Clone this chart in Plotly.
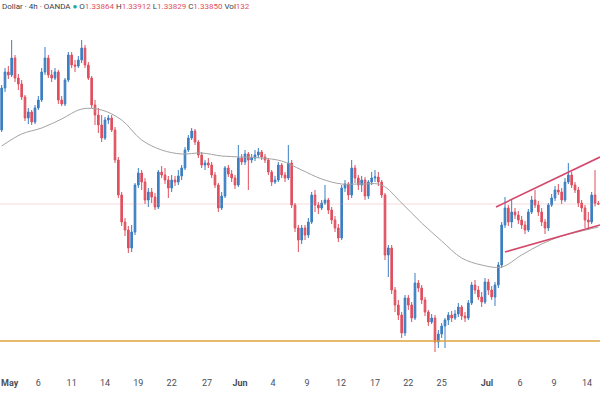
import plotly.graph_objects as go

# ---- data (4h bars) ----
open_ = [
1.3533, 1.3617, 1.3649, 1.3643, 1.3677, 1.3637, 1.3625, 1.3599, 1.3557, 1.3569,
1.3549, 1.3577, 1.3593, 1.3649, 1.3677, 1.3643, 1.3637, 1.3649, 1.3593, 1.3585,
1.3633, 1.3683, 1.3663, 1.3661, 1.3673, 1.3697, 1.3663, 1.3637, 1.3583, 1.3563,
1.3543, 1.3517, 1.3553, 1.3557, 1.3533, 1.3473, 1.3403, 1.3349, 1.3333, 1.3297,
1.3329, 1.3423, 1.3447, 1.3429, 1.3393, 1.3409, 1.3399, 1.3379, 1.3449, 1.3443,
1.3433, 1.3417, 1.3433, 1.3429, 1.3441, 1.3457, 1.3493, 1.3517, 1.3531, 1.3509,
1.3483, 1.3463, 1.3467, 1.3463, 1.3443, 1.3423, 1.3377, 1.3401, 1.3457, 1.3445,
1.3437, 1.3423, 1.3477, 1.3469, 1.3485, 1.3473, 1.3477, 1.3483, 1.3489, 1.3479,
1.3473, 1.3449, 1.3429, 1.3433, 1.3463, 1.3443, 1.3437, 1.3467, 1.3383, 1.3337,
1.3313, 1.3337, 1.3323, 1.3349, 1.3403, 1.3383, 1.3377, 1.3387, 1.3393, 1.3373,
1.3353, 1.3337, 1.3317, 1.3417, 1.3425, 1.3403, 1.3457, 1.3437, 1.3423, 1.3433,
1.3401, 1.3429, 1.3437, 1.3439, 1.3429, 1.3403, 1.3283, 1.3297, 1.3213, 1.3183,
1.3163, 1.3127, 1.3197, 1.3183, 1.3157, 1.3227, 1.3217, 1.3193, 1.3169, 1.3149,
1.3157, 1.3109, 1.3125, 1.3141, 1.3153, 1.3163, 1.3157, 1.3165, 1.3179, 1.3161,
1.3157, 1.3187, 1.3223, 1.3213, 1.3199, 1.3189, 1.3229, 1.3213, 1.3199, 1.3223,
1.3263, 1.3343, 1.3377, 1.3349, 1.3369, 1.3363, 1.3353, 1.3343, 1.3333, 1.3369,
1.3393, 1.3383, 1.3369, 1.3349, 1.3337, 1.3383, 1.3397, 1.3413, 1.3409, 1.3393,
1.3429, 1.3443, 1.3423, 1.3413, 1.3387, 1.3377, 1.3353, 1.3349, 1.3403, 1.33864,
]
high = [
1.3623, 1.3657, 1.3661, 1.3713, 1.3683, 1.3645, 1.3633, 1.3603, 1.3577, 1.3573,
1.3583, 1.3601, 1.3657, 1.3699, 1.3683, 1.3653, 1.3657, 1.3653, 1.3601, 1.3637,
1.3689, 1.3689, 1.3673, 1.3681, 1.3713, 1.3703, 1.3669, 1.3641, 1.3593, 1.3577,
1.3563, 1.3559, 1.3563, 1.3563, 1.3539, 1.3479, 1.3409, 1.3357, 1.3341, 1.3343,
1.3427, 1.3457, 1.3453, 1.3437, 1.3417, 1.3417, 1.3407, 1.3453, 1.3461, 1.3457,
1.3441, 1.3443, 1.3441, 1.3453, 1.3463, 1.3499, 1.3523, 1.3537, 1.3535, 1.3513,
1.3489, 1.3473, 1.3477, 1.3469, 1.3449, 1.3427, 1.3409, 1.3461, 1.3463, 1.3453,
1.3443, 1.3503, 1.3485, 1.3493, 1.3489, 1.3485, 1.3493, 1.3497, 1.3493, 1.3485,
1.3477, 1.3453, 1.3441, 1.3469, 1.3467, 1.3449, 1.3503, 1.3473, 1.3387, 1.3343,
1.3343, 1.3343, 1.3357, 1.3409, 1.3413, 1.3389, 1.3393, 1.3423, 1.3397, 1.3379,
1.3361, 1.3345, 1.3423, 1.3433, 1.3429, 1.3473, 1.3463, 1.3443, 1.3441, 1.3439,
1.3433, 1.3449, 1.3453, 1.3449, 1.3433, 1.3407, 1.3303, 1.3303, 1.3219, 1.3193,
1.3169, 1.3203, 1.3203, 1.3189, 1.3247, 1.3233, 1.3223, 1.3199, 1.3173, 1.3165,
1.3163, 1.3133, 1.3147, 1.3157, 1.3169, 1.3171, 1.3173, 1.3187, 1.3183, 1.3169,
1.3193, 1.3229, 1.3233, 1.3221, 1.3209, 1.3237, 1.3235, 1.3221, 1.3229, 1.3269,
1.3349, 1.3399, 1.3383, 1.3393, 1.3377, 1.3371, 1.3361, 1.3351, 1.3375, 1.3401,
1.3413, 1.3391, 1.3377, 1.3355, 1.3387, 1.3405, 1.3421, 1.3425, 1.3417, 1.3437,
1.3467, 1.3449, 1.3429, 1.3419, 1.3393, 1.3383, 1.3369, 1.3409, 1.3453, 1.33912,
]
low = [
1.3529, 1.3609, 1.3635, 1.3639, 1.3629, 1.3613, 1.3593, 1.3551, 1.3545, 1.3543,
1.3545, 1.3573, 1.3589, 1.3643, 1.3637, 1.3629, 1.3633, 1.3585, 1.3581, 1.3581,
1.3629, 1.3657, 1.3649, 1.3657, 1.3667, 1.3657, 1.3633, 1.3577, 1.3543, 1.3527,
1.3509, 1.3513, 1.3545, 1.3529, 1.3467, 1.3397, 1.3341, 1.3321, 1.3287, 1.3289,
1.3323, 1.3417, 1.3413, 1.3385, 1.3379, 1.3387, 1.3373, 1.3375, 1.3437, 1.3425,
1.3397, 1.3409, 1.3421, 1.3423, 1.3433, 1.3453, 1.3489, 1.3513, 1.3503, 1.3477,
1.3457, 1.3453, 1.3457, 1.3437, 1.3417, 1.3369, 1.3373, 1.3397, 1.3439, 1.3429,
1.3415, 1.3419, 1.3463, 1.3463, 1.3413, 1.3467, 1.3471, 1.3477, 1.3473, 1.3467,
1.3443, 1.3421, 1.3425, 1.3429, 1.3437, 1.3429, 1.3433, 1.3377, 1.3329, 1.3289,
1.3305, 1.3313, 1.3317, 1.3345, 1.3369, 1.3365, 1.3373, 1.3383, 1.3365, 1.3345,
1.3329, 1.3309, 1.3313, 1.3409, 1.3393, 1.3397, 1.3427, 1.3413, 1.3409, 1.3393,
1.3395, 1.3423, 1.3429, 1.3421, 1.3397, 1.3273, 1.3239, 1.3205, 1.3169, 1.3153,
1.3117, 1.3121, 1.3173, 1.3149, 1.3153, 1.3209, 1.3185, 1.3161, 1.3141, 1.3145,
1.3089, 1.3097, 1.3117, 1.3097, 1.3143, 1.3149, 1.3153, 1.3159, 1.3153, 1.3149,
1.3153, 1.3183, 1.3205, 1.3193, 1.3179, 1.3185, 1.3203, 1.3193, 1.3181, 1.3217,
1.3257, 1.3337, 1.3341, 1.3337, 1.3355, 1.3345, 1.3335, 1.3325, 1.3329, 1.3365,
1.3377, 1.3361, 1.3341, 1.3325, 1.3331, 1.3379, 1.3391, 1.3403, 1.3385, 1.3389,
1.3425, 1.3417, 1.3407, 1.3379, 1.3369, 1.3337, 1.3333, 1.3345, 1.3380, 1.33829,
]
close = [
1.3617, 1.3649, 1.3643, 1.3677, 1.3637, 1.3625, 1.3599, 1.3557, 1.3569, 1.3549,
1.3577, 1.3593, 1.3649, 1.3677, 1.3643, 1.3637, 1.3649, 1.3593, 1.3585, 1.3633,
1.3683, 1.3663, 1.3661, 1.3673, 1.3697, 1.3663, 1.3637, 1.3583, 1.3563, 1.3543,
1.3517, 1.3553, 1.3557, 1.3533, 1.3473, 1.3403, 1.3349, 1.3333, 1.3297, 1.3329,
1.3423, 1.3447, 1.3429, 1.3393, 1.3409, 1.3399, 1.3379, 1.3449, 1.3443, 1.3433,
1.3417, 1.3433, 1.3429, 1.3441, 1.3457, 1.3493, 1.3517, 1.3531, 1.3509, 1.3483,
1.3463, 1.3467, 1.3463, 1.3443, 1.3423, 1.3377, 1.3401, 1.3457, 1.3445, 1.3437,
1.3423, 1.3477, 1.3469, 1.3485, 1.3473, 1.3477, 1.3483, 1.3489, 1.3479, 1.3473,
1.3449, 1.3429, 1.3433, 1.3463, 1.3443, 1.3437, 1.3467, 1.3383, 1.3337, 1.3313,
1.3337, 1.3323, 1.3349, 1.3403, 1.3383, 1.3377, 1.3387, 1.3393, 1.3373, 1.3353,
1.3337, 1.3317, 1.3417, 1.3425, 1.3403, 1.3457, 1.3437, 1.3423, 1.3433, 1.3401,
1.3429, 1.3437, 1.3439, 1.3429, 1.3403, 1.3283, 1.3297, 1.3213, 1.3183, 1.3163,
1.3127, 1.3197, 1.3183, 1.3157, 1.3227, 1.3217, 1.3193, 1.3169, 1.3149, 1.3157,
1.3109, 1.3125, 1.3141, 1.3153, 1.3163, 1.3157, 1.3165, 1.3179, 1.3161, 1.3157,
1.3187, 1.3223, 1.3213, 1.3199, 1.3189, 1.3229, 1.3213, 1.3199, 1.3223, 1.3263,
1.3343, 1.3377, 1.3349, 1.3369, 1.3363, 1.3353, 1.3343, 1.3333, 1.3369, 1.3393,
1.3383, 1.3369, 1.3349, 1.3337, 1.3383, 1.3397, 1.3413, 1.3409, 1.3393, 1.3429,
1.3443, 1.3423, 1.3413, 1.3387, 1.3377, 1.3353, 1.3349, 1.3403, 1.33864, 1.33850,
]
volume_last = 132

# moving average, sampled at bar indices
ma_bars = [0, 6, 12, 18, 24, 30, 36, 42, 48, 54, 60, 66, 72, 78, 84, 90, 96, 102,
           108, 114, 120, 126, 132, 138, 144, 150, 156, 162, 168, 174, 179]
ma_vals = [1.3501, 1.3525, 1.3537, 1.3555, 1.3575, 1.3573, 1.3553, 1.3513, 1.3493,
           1.3485, 1.3487, 1.3481, 1.3479, 1.3477, 1.3471, 1.3453, 1.3435, 1.3425,
           1.3425, 1.3423, 1.3387, 1.3347, 1.3311, 1.3277, 1.3263, 1.3259, 1.3283,
           1.3305, 1.3321, 1.3331, 1.3339]

# drawn channel (bar index, price)
upper_bars = [148.3, 179.5]
upper_vals = [1.3379, 1.3479]
lower_bars = [151.0, 179.5]
lower_vals = [1.3289, 1.3343]
support_level = 1.3111

# time axis labels (bar index where the day starts)
tick_bars = [2.4, 11, 21, 31, 41, 51, 61.6, 71.5, 81.4, 91.6, 101.8, 112, 122, 132, 145.6, 155.5, 165.7, 175.6]
tick_text = ["May", "6", "11", "14", "19", "22", "27", "Jun", "4", "9", "12", "17", "22", "25", "Jul", "6", "9", "14"]

UP = "#3b7fc2"
DOWN = "#e0505f"

n = len(close)
xs = list(range(n))

fig = go.Figure()

fig.add_trace(go.Candlestick(
    x=xs, open=open_, high=high, low=low, close=close,
    increasing=dict(line=dict(color=UP, width=1), fillcolor=UP),
    decreasing=dict(line=dict(color=DOWN, width=1), fillcolor=DOWN),
    whiskerwidth=0, showlegend=False, hoverinfo="skip",
))

fig.add_trace(go.Scatter(x=ma_bars, y=ma_vals, mode="lines",
                         line=dict(color="#a3a3a3", width=1, shape="spline", smoothing=1.0),
                         showlegend=False, hoverinfo="skip"))

for bx, bv in ((upper_bars, upper_vals), (lower_bars, lower_vals)):
    fig.add_trace(go.Scatter(x=bx, y=bv, mode="lines",
                             line=dict(color="#d5476a", width=1.6),
                             showlegend=False, hoverinfo="skip"))

# support line and last price line
fig.add_shape(type="line", xref="paper", x0=0, x1=1, yref="y", y0=support_level, y1=support_level,
              line=dict(color="#e0a33c", width=1.5))
fig.add_shape(type="line", xref="paper", x0=0, x1=1, yref="y", y0=close[-1], y1=close[-1],
              line=dict(color="rgba(225,130,140,0.3)", width=1))

ticktext = [f"<b>{t}</b>" if t in ("May", "Jun", "Jul") else t for t in tick_text]

red = "#e0505f"
header = (
    "Dollar · 4h · OANDA <span style='color:#22ab94'>●</span> "
    f"O<span style='color:{red}'>{open_[-1]:.5f}</span> "
    f"H<span style='color:{red}'>{high[-1]:.5f}</span> "
    f"L<span style='color:{red}'>{low[-1]:.5f}</span> "
    f"C<span style='color:{red}'>{close[-1]:.5f}</span> "
    f"Vol<span style='color:{red}'>{volume_last}</span>"
)
fig.add_annotation(text=header, xref="paper", yref="paper", x=0.0, y=1.0,
                   xanchor="left", yanchor="top", showarrow=False,
                   font=dict(family="Roboto", size=8, color="#3a3e49"))

fig.update_layout(
    width=600, height=400,
    margin=dict(l=0, r=0, t=0, b=30, autoexpand=False),
    paper_bgcolor="white", plot_bgcolor="white",
    hovermode=False,
    xaxis=dict(range=[-0.5, n - 0.5], rangeslider=dict(visible=False),
               showgrid=False, zeroline=False, showline=False, automargin=False,
               tickmode="array", tickvals=tick_bars, ticktext=ticktext,
               ticks="", ticklabelstandoff=6, ticklabeloverflow="allow",
               tickfont=dict(family="Roboto", size=9, color="#4a4e59")),
    yaxis=dict(range=[1.3053, 1.3793], visible=False, showgrid=False, zeroline=False,
               automargin=False),
)

fig.write_html("out.html", config={"displayModeBar": False})
